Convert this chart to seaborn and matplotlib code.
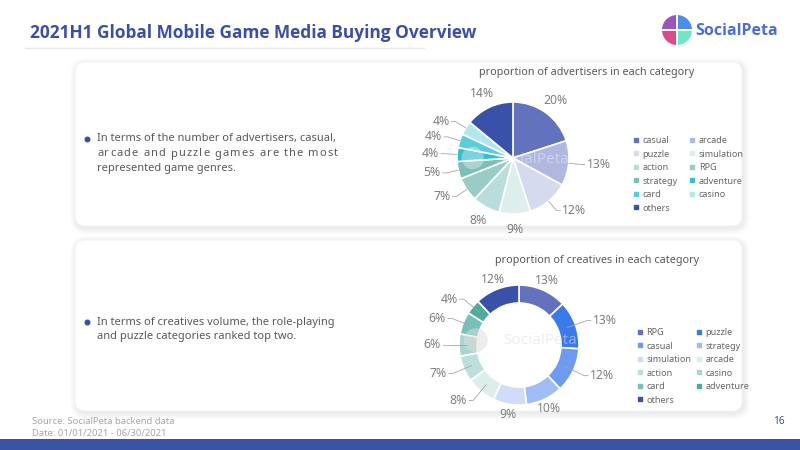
import numpy as np
import matplotlib
matplotlib.use("Agg")
import matplotlib.pyplot as plt
from matplotlib.patches import FancyBboxPatch, Wedge, Circle, Rectangle
from matplotlib.lines import Line2D
from matplotlib.font_manager import FontProperties, findfont, get_font
from matplotlib.ft2font import LOAD_NO_HINTING
import seaborn as sns

# ---------------- data ----------------
title = "2021H1 Global Mobile Game Media Buying Overview"

adv_title = "proportion of advertisers in each category"
adv_categories = ["casual", "arcade", "puzzle", "simulation", "action", "RPG",
                  "strategy", "adventure", "card", "casino", "others"]
adv_share = [20, 13, 12, 9, 8, 7, 5, 4, 4, 4, 14]
adv_colors = ["#6272BD", "#B0B7E0", "#D6DAEE", "#DDEEEC", "#B9DDDA", "#99CCC7",
              "#7DBEB8", "#33BDD0", "#5ACCDD", "#B2E6EE", "#3A51A9"]

cre_title = "proportion of creatives in each category"
cre_categories = ["RPG", "puzzle", "casual", "strategy", "simulation", "arcade",
                  "action", "casino", "card", "adventure", "others"]
cre_share = [13, 13, 12, 10, 9, 8, 7, 6, 6, 4, 12]
cre_colors = ["#6272BD", "#3B7AEA", "#6E9AF0", "#A0BCF7", "#CFDCFA", "#DCEDEB",
              "#BDDFDB", "#A8D5D0", "#79C1B8", "#4DAA9D", "#3A51A9"]

bullet1 = ["In terms of the number of advertisers, casual,",
           "arcade and puzzle games are the most",
           "represented game genres."]
bullet2 = ["In terms of creatives volume, the role-playing",
           "and puzzle categories ranked top two."]
footer = ["Source: SocialPeta backend data", "Date: 01/01/2021 - 06/30/2021"]
page_no = "16"
brand = "SocialPeta"

# ---------------- style ----------------
sns.set_theme(style="white")
plt.rcParams["font.family"] = ["Noto Sans", "DejaVu Sans"]

BLUE = "#3A51A9"
TXT = "#595959"
LBL = "#7F7F7F"
BODY_FS = 8.0

fig = plt.figure(figsize=(8, 4.5), dpi=100)
fig.patch.set_facecolor("white")
bg = fig.add_axes([0, 0, 1, 1])
bg.set_xlim(0, 800)
bg.set_ylim(450, 0)
bg.axis("off")


def card(y0, y1, x0=75, x1=742):
    for k in range(1, 7):
        bg.add_patch(FancyBboxPatch((x0 - k + 1.5, y0 - k + 2), (x1 - x0) + 2 * k, (y1 - y0) + 2 * k,
                                    boxstyle=f"round,pad=0,rounding_size={10 + k}",
                                    fc="black", ec="none", alpha=0.011, zorder=1))
    bg.add_patch(FancyBboxPatch((x0, y0), x1 - x0, y1 - y0,
                                boxstyle="round,pad=0,rounding_size=10",
                                fc="white", ec="#F2F2F2", lw=0.5, zorder=2))


card(62, 226)
card(240, 411)

# header
bg.text(30, 33, title, fontsize=12.4, fontweight="bold", color="#3B4FA6",
        va="center", ha="left", family=["Open Sans", "DejaVu Sans"], zorder=5)
bg.plot([25, 424], [48, 48], color="#E8E8E8", lw=1, zorder=3)

# logo
lc, lr = (677, 30), 15
for (t1, t2, c) in [(180, 270, "#9A55B8"), (270, 360, "#4A8FE6"),
                    (90, 180, "#DD4A8C"), (0, 90, "#72E5C6")]:
    bg.add_patch(Wedge(lc, lr, t1, t2, fc=c, ec="none", zorder=5))
bg.plot([lc[0] - lr, lc[0] + lr], [lc[1], lc[1]], color="white", lw=1.4, zorder=6)
bg.plot([lc[0], lc[0]], [lc[1] - lr, lc[1] + lr], color="white", lw=1.4, zorder=6)
bg.text(695, 31, brand, fontsize=11.5, fontweight="bold", color="#4B6FD6",
        va="center", ha="left", family=["Open Sans", "DejaVu Sans"], zorder=5)

# footer
bg.text(32, 422, footer[0], fontsize=6.8, color="#A6A6A6", va="center", zorder=5)
bg.text(32, 433, footer[1], fontsize=6.8, color="#A6A6A6", va="center", zorder=5)
bg.text(779, 422, page_no, fontsize=7.2, color=BLUE, va="center", ha="center", zorder=5)
bg.add_patch(Rectangle((0, 439), 800, 11, fc="#3A53A4", ec="none", zorder=5))

BODY = dict(fontsize=BODY_FS, color=TXT, zorder=5)

_font = get_font(findfont(FontProperties(family="Noto Sans")))
_font.set_size(BODY_FS, 100)


def advance(ch):
    g = _font.load_char(ord(ch), flags=LOAD_NO_HINTING)
    return g.linearHoriAdvance / 65536.0


def justified(x0, x1, y, s):
    advs = [advance(ch) for ch in s]
    natural = sum(advs)
    extra = ((x1 - x0) - natural) / (len(s) - 1)
    pen = x0
    for ch, adv in zip(s, advs):
        if ch != " ":
            bg.text(pen, y, ch, va="center", ha="left", **BODY)
        pen += adv + extra


# bullet 1
bg.plot([87], [139], "o", ms=3.3, color=BLUE, zorder=5)
bg.text(97, 139, bullet1[0], va="center", ha="left", **BODY)
justified(97, 338, 154, bullet1[1])
bg.text(97, 168, bullet1[2], va="center", ha="left", **BODY)

# bullet 2
bg.plot([87], [322], "o", ms=3.3, color=BLUE, zorder=5)
bg.text(97, 322, bullet2[0], va="center", ha="left", **BODY)
bg.text(97, 337, bullet2[1], va="center", ha="left", **BODY)

# chart titles
bg.text(587, 72, adv_title, fontsize=7.8, color=TXT, ha="center", va="center", zorder=5)
bg.text(597, 261, cre_title, fontsize=7.8, color=TXT, ha="center", va="center", zorder=5)


def pie_axes(cx, cy, r, lim=1.7):
    half = lim * r
    ax = fig.add_axes([(cx - half) / 800, (450 - cy - half) / 450, 2 * half / 800, 2 * half / 450])
    ax.set_zorder(10)
    ax.patch.set_alpha(0)
    return ax, lim


def pct_labels(ax, values, r_anchor, r_elbow, r_text, thresh):
    total = sum(values)
    cum = 0
    for v in values:
        mid = (cum + v / 2) / total * 2 * np.pi
        cum += v
        x, y = np.sin(mid), np.cos(mid)
        lab = f"{v}%"
        if abs(x) > thresh:
            s = np.sign(x)
            ex, ey = r_elbow * x, r_elbow * y
            tx = ex + s * 0.07
            ax.plot([r_anchor * x, ex, tx], [r_anchor * y, ey, ey], color="#A6A6A6", lw=0.6,
                    clip_on=False)
            ax.text(tx + s * 0.03, ey, lab, ha="left" if s > 0 else "right", va="center",
                    fontsize=8.8, color=LBL, clip_on=False)
        else:
            ax.text(r_text * x, r_text * y, lab, ha="center", va="center",
                    fontsize=8.8, color=LBL, clip_on=False)


def legend(labels, colors, x, y, colspace):
    n = len(labels)
    order = list(range(0, n, 2)) + list(range(1, n, 2))
    handles = [Line2D([], [], marker="s", linestyle="", markersize=3.3, color=colors[i]) for i in order]
    fig.legend(handles, [labels[i] for i in order], loc="upper left",
               bbox_to_anchor=(x / 800, 1 - y / 450), ncol=2, frameon=False,
               fontsize=6.5, handlelength=0.6, handletextpad=0.45, columnspacing=colspace,
               labelspacing=0.5, borderpad=0, borderaxespad=0, labelcolor="#666666")


# pie 1
ax1, lim = pie_axes(513, 158, 56)
ax1.pie(adv_share, colors=adv_colors, startangle=90, counterclock=False,
        wedgeprops=dict(edgecolor="white", linewidth=1.2))
ax1.set_xlim(-lim, lim)
ax1.set_ylim(-lim, lim)
ax1.axis("off")
pct_labels(ax1, adv_share, 1.0, 1.22, 1.28, 0.6)
legend(adv_categories, adv_colors, 633, 136, 1.3)

# pie 2 (donut)
ax2, lim = pie_axes(519, 345, 60)
ax2.pie(cre_share, colors=cre_colors, startangle=90, counterclock=False,
        wedgeprops=dict(edgecolor="white", linewidth=1.2, width=0.3))
ax2.set_xlim(-lim, lim)
ax2.set_ylim(-lim, lim)
ax2.axis("off")
pct_labels(ax2, cre_share, 0.86, 1.2, 1.17, 0.5)
legend(cre_categories, cre_colors, 637, 328, 0.5)

# watermarks
for ax, c, a in [(ax1, "white", 0.35), (ax2, "#DDDDDD", 0.5)]:
    ax.text(0.35, -0.03 if ax is ax1 else 0.08, brand, fontsize=11, fontweight="bold",
            color=c, alpha=a, ha="center", va="center")
    ax.add_patch(Circle((-0.72, 0.0 if ax is ax1 else 0.08), 0.2, fc=c, alpha=a, ec="none"))

fig.savefig("out.png", dpi=100)
